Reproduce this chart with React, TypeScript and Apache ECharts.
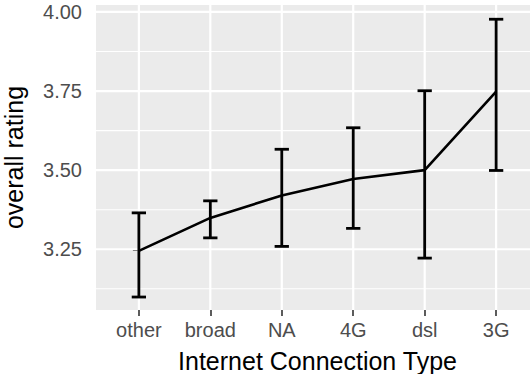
import React, { useEffect, useRef } from "react";
import * as echarts from "echarts";

const categories = ["other", "broad", "NA", "4G", "dsl", "3G"];
const meanRating = [3.245, 3.349, 3.42, 3.472, 3.5, 3.748];
const lowerRating = [3.099, 3.286, 3.259, 3.316, 3.222, 3.499];
const upperRating = [3.365, 3.403, 3.566, 3.634, 3.751, 3.977];
const yTicks = [3.25, 3.5, 3.75, 4.0];
const yMinorGrid = [3.125, 3.375, 3.625, 3.875];

const Y_MIN = 3.058;
const Y_MAX = 4.022;
const X_MIN = -0.6;
const X_MAX = 5.6;
const CAP_HALF = 0.1;

export default function App() {
  const ref = useRef<HTMLDivElement>(null);

  useEffect(() => {
    if (!ref.current) return;
    const chart = echarts.init(ref.current, undefined, { renderer: "svg" });
    const xIdx = categories.map((_, i) => i);

    // [x, y, kind]: kind 0 = major horizontal, 1 = minor horizontal, 2 = vertical
    const gridData: number[][] = [
      ...yTicks.map((v) => [X_MIN, v, 0]),
      ...yMinorGrid.map((v) => [X_MIN, v, 1]),
      ...xIdx.map((v) => [v, Y_MIN, 2]),
    ];

    const font = "Liberation Sans, Arial, sans-serif";

    const option: any = {
      animation: false,
      backgroundColor: "#ffffff",
      textStyle: { fontFamily: font },
      grid: {
        left: 96,
        top: 5,
        right: -9,
        bottom: 64,
        containLabel: false,
        outerBoundsMode: "none",
        show: true,
        backgroundColor: "#EBEBEB",
        borderWidth: 0,
      },
      xAxis: {
        type: "value",
        min: X_MIN,
        max: X_MAX,
        axisLine: { show: false },
        splitLine: { show: false },
        axisTick: {
          show: true,
          customValues: xIdx,
          length: 6,
          lineStyle: { color: "#333333", width: 1.6 },
        },
        axisLabel: {
          customValues: xIdx,
          formatter: (v: number) => categories[Math.round(v)] ?? "",
          color: "#4D4D4D",
          fontSize: 20,
          margin: 10,
          fontFamily: font,
        },
        name: "Internet Connection Type",
        nameLocation: "middle",
        nameGap: 38,
        nameTextStyle: { color: "#000000", fontSize: 25, fontFamily: font },
      },
      yAxis: {
        type: "value",
        min: Y_MIN,
        max: Y_MAX,
        axisLine: { show: false },
        splitLine: { show: false },
        axisTick: {
          show: true,
          customValues: yTicks,
          length: 6,
          lineStyle: { color: "#333333", width: 1.6 },
        },
        axisLabel: {
          customValues: yTicks,
          formatter: (v: number) => v.toFixed(2),
          color: "#4D4D4D",
          fontSize: 20,
          margin: 14,
          fontFamily: font,
        },
        name: "overall rating",
        nameLocation: "middle",
        nameRotate: 90,
        nameGap: 70,
        nameTextStyle: { color: "#000000", fontSize: 25, fontFamily: font },
      },
      series: [
        {
          type: "custom",
          z: 1,
          silent: true,
          data: gridData,
          label: { show: false },
          renderItem: (params: any, api: any) => {
            const x = api.value(0);
            const y = api.value(1);
            const kind = api.value(2);
            let p1: number[];
            let p2: number[];
            if (kind === 2) {
              p1 = api.coord([x, Y_MIN]);
              p2 = api.coord([x, Y_MAX]);
            } else {
              p1 = api.coord([X_MIN, y]);
              p2 = api.coord([X_MAX, y]);
            }
            return {
              type: "line",
              silent: true,
              shape: { x1: p1[0], y1: p1[1], x2: p2[0], y2: p2[1] },
              style: { stroke: "#ffffff", lineWidth: kind === 1 ? 1.1 : 2.2 },
            };
          },
        },
        {
          type: "line",
          z: 3,
          data: meanRating.map((m, i) => [i, m]),
          symbol: "none",
          lineStyle: { color: "#000000", width: 2.6 },
        },
        {
          type: "custom",
          z: 4,
          data: categories.map((_, i) => [i, lowerRating[i], upperRating[i]]),
          renderItem: (params: any, api: any) => {
            const x = api.value(0);
            const lo = api.value(1);
            const hi = api.value(2);
            const top = api.coord([x, hi]);
            const bot = api.coord([x, lo]);
            const tl = api.coord([x - CAP_HALF, hi]);
            const tr = api.coord([x + CAP_HALF, hi]);
            const bl = api.coord([x - CAP_HALF, lo]);
            const br = api.coord([x + CAP_HALF, lo]);
            const style = { stroke: "#000000", lineWidth: 2.8 };
            return {
              type: "group",
              children: [
                { type: "line", shape: { x1: top[0], y1: top[1], x2: bot[0], y2: bot[1] }, style },
                { type: "line", shape: { x1: tl[0], y1: tl[1], x2: tr[0], y2: tr[1] }, style },
                { type: "line", shape: { x1: bl[0], y1: bl[1], x2: br[0], y2: br[1] }, style },
              ],
            };
          },
        },
      ],
    };

    chart.setOption(option);
    return () => chart.dispose();
  }, []);

  return (
    <div
      ref={ref}
      style={{ position: "absolute", left: 0, top: 0, width: 530, height: 374 }}
    />
  );
}
